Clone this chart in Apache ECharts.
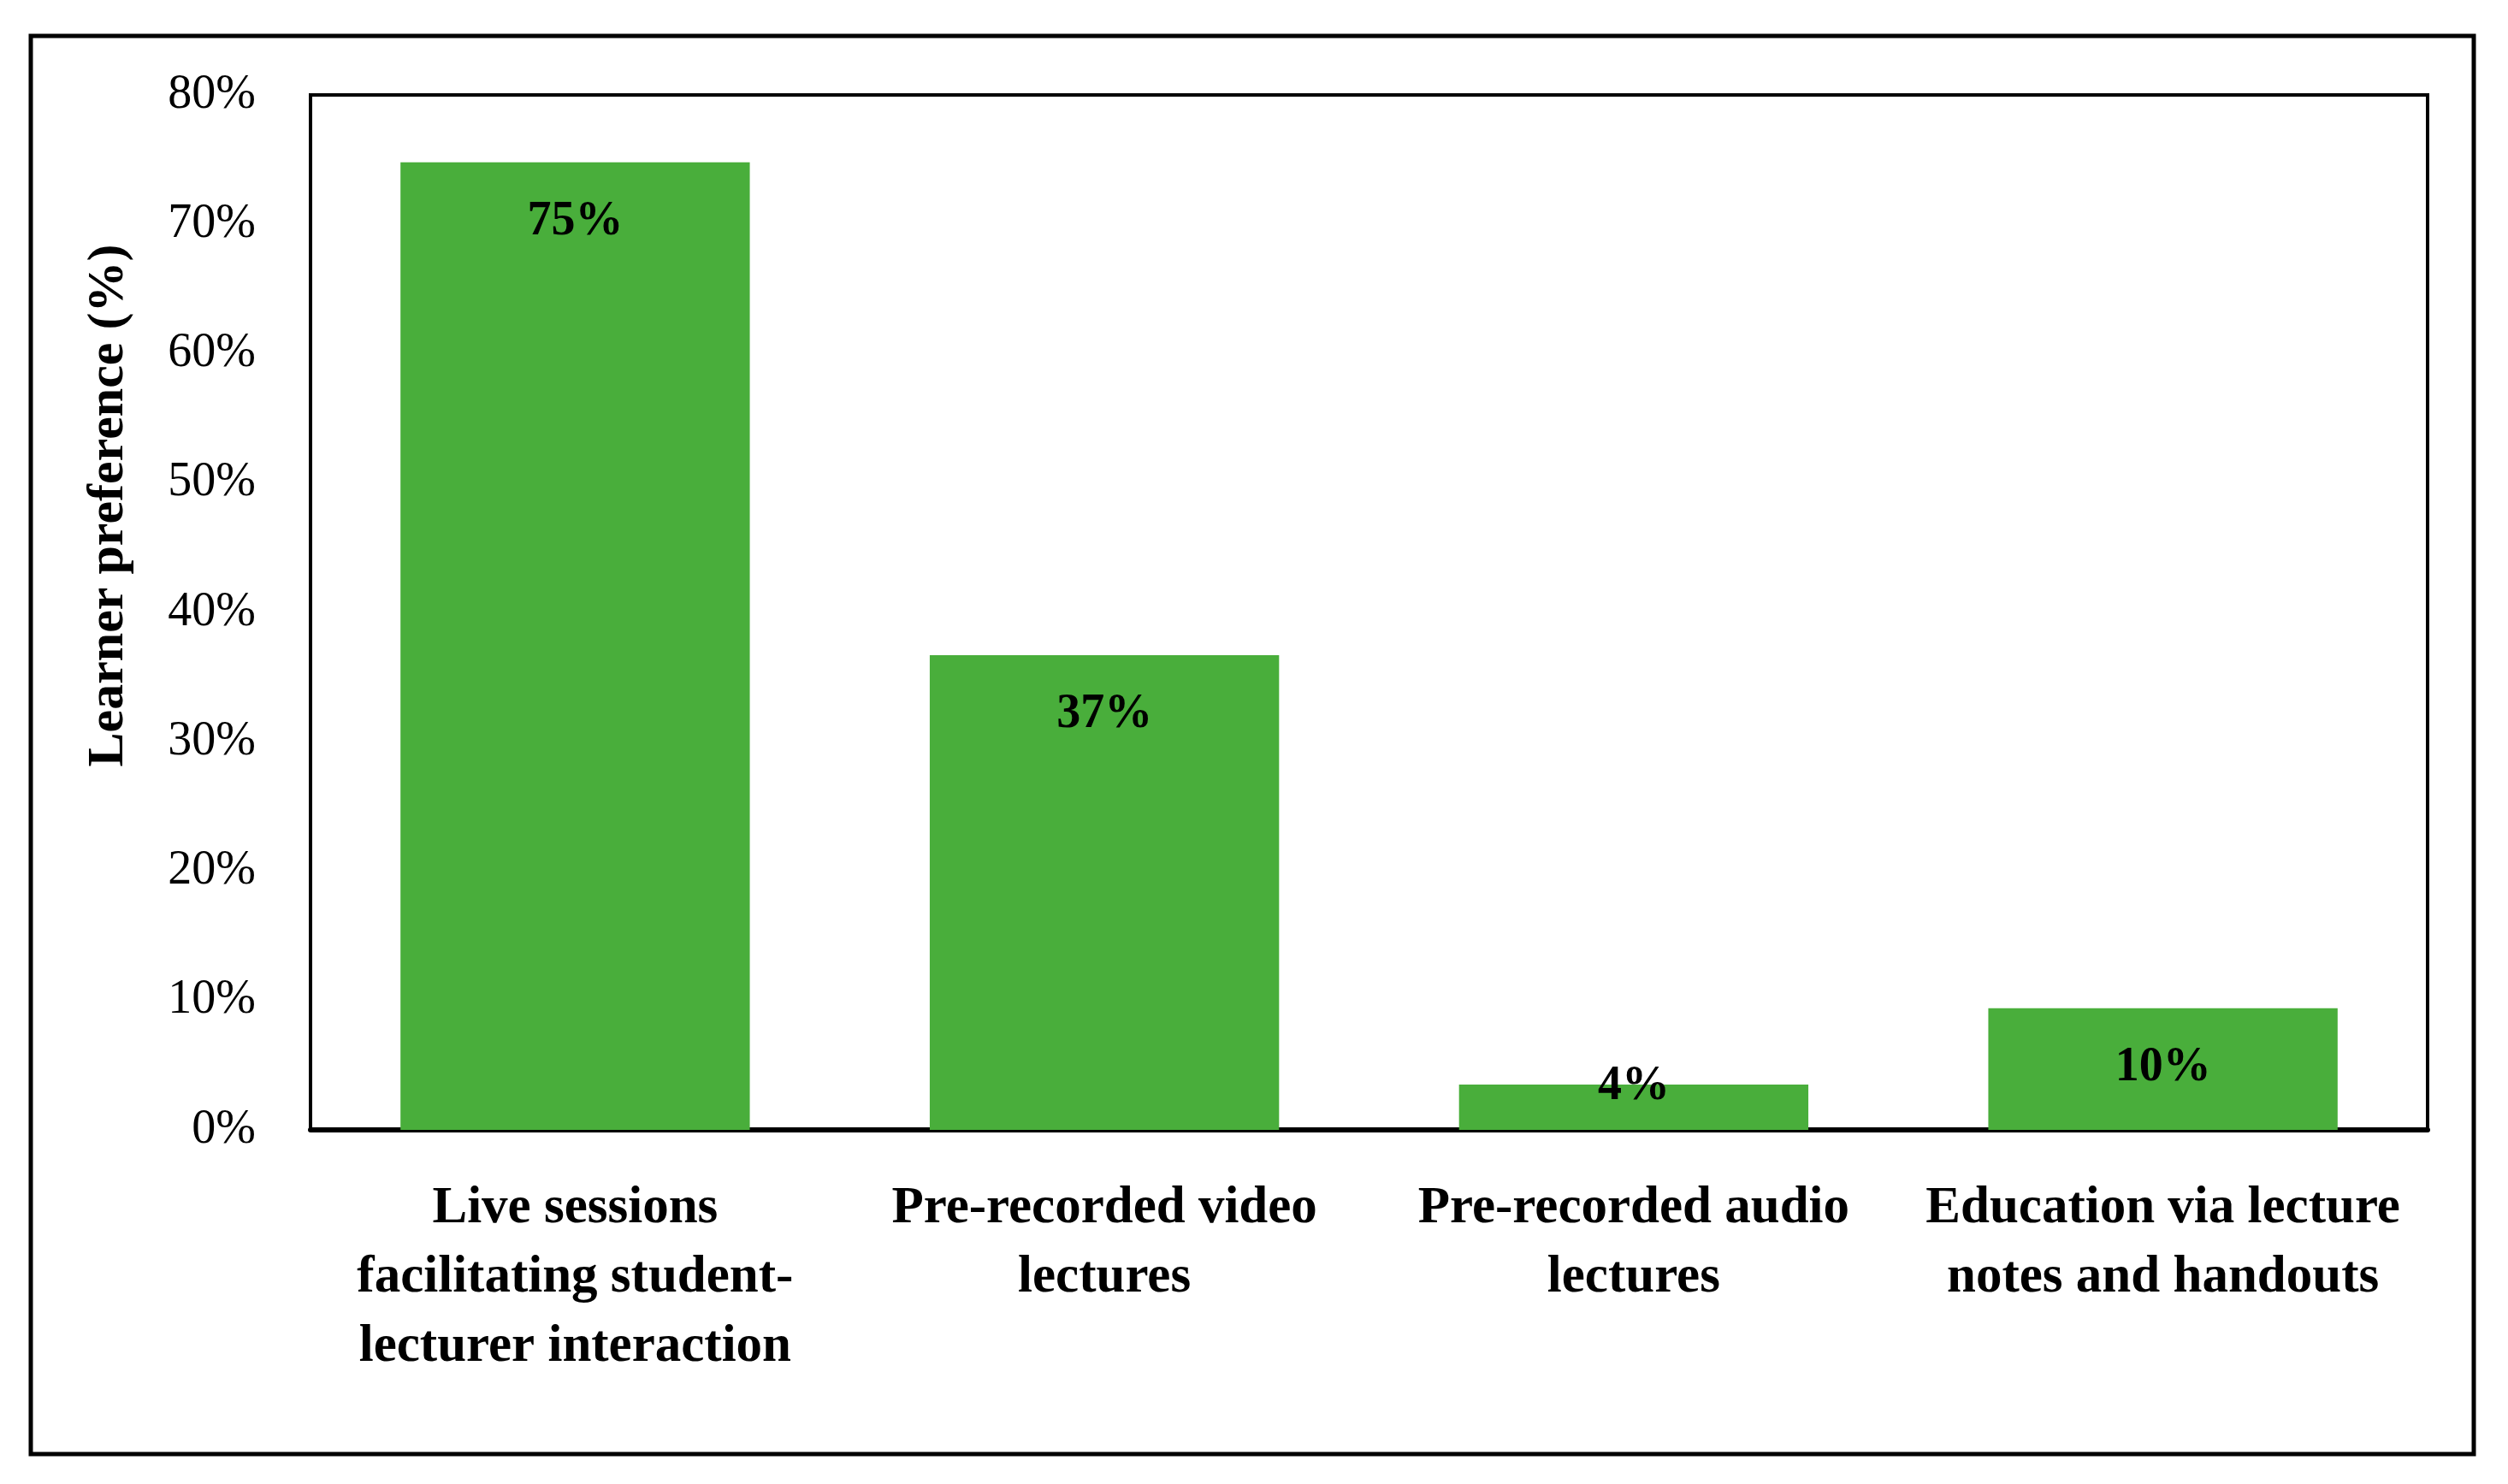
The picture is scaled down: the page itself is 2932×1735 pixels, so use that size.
<!DOCTYPE html>
<html>
<head>
<meta charset="utf-8">
<script src="https://cdn.jsdelivr.net/npm/echarts@6/dist/echarts.min.js"></script>
<style>
html,body{margin:0;padding:0;background:#fff;}
#chart{width:2932px;height:1735px;}
</style>
</head>
<body>
<div id="chart"></div>
<script>
var categories = [
  "Live sessions\nfacilitating student-\nlecturer interaction",
  "Pre-recorded video\nlectures",
  "Pre-recorded audio\nlectures",
  "Education via lecture\nnotes and handouts"
];
var values = [74.8, 36.7, 3.5, 9.4];
var valueLabels = ["75%", "37%", "4%", "10%"];
var yTicks = { min: 0, max: 80, interval: 10 };

var chart = echarts.init(document.getElementById('chart'), null, {renderer: 'canvas'});

var barData = values.map(function (v, i) {
  var item = { value: v };
  if (v < 5) {
    item.label = { position: 'top', distance: -30 };
  }
  return item;
});

var option = {
  backgroundColor: '#ffffff',
  animation: false,
  grid: {
    left: 363, right: 94, top: 111, bottom: 414,
    show: true, borderColor: '#000', borderWidth: 4, backgroundColor: 'transparent'
  },
  graphic: [{
    type: 'rect',
    shape: { x: 36, y: 42, width: 2856, height: 1658 },
    style: { fill: 'none', stroke: '#000', lineWidth: 5 },
    silent: true
  }],
  xAxis: {
    type: 'category',
    data: categories,
    axisLine: { show: true, lineStyle: { color: '#000', width: 6 } },
    axisTick: { show: false },
    axisLabel: {
      interval: 0,
      margin: 52,
      fontFamily: 'Liberation Serif',
      fontWeight: 'bold',
      fontSize: 61,
      lineHeight: 81,
      color: '#000'
    }
  },
  yAxis: {
    type: 'value',
    min: yTicks.min, max: yTicks.max, interval: yTicks.interval,
    name: 'Learner preference (%)',
    nameLocation: 'middle',
    nameGap: 206,
    nameTextStyle: {
      fontFamily: 'Liberation Serif',
      fontWeight: 'bold',
      fontSize: 60,
      color: '#000',
      padding: [0, 0, 0, 250]
    },
    axisLine: { show: true, lineStyle: { color: '#000', width: 3 } },
    axisTick: { show: false },
    splitLine: { show: false },
    axisLabel: {
      formatter: '{value}%',
      margin: 64,
      fontFamily: 'Liberation Serif',
      fontSize: 56,
      color: '#000'
    }
  },
  series: [{
    type: 'bar',
    data: barData,
    barCategoryGap: '34%',
    itemStyle: { color: '#49AE3B' },
    label: {
      show: true,
      position: 'insideTop',
      distance: 42,
      formatter: function (p) { return valueLabels[p.dataIndex]; },
      fontFamily: 'Liberation Serif',
      fontWeight: 'bold',
      fontSize: 56,
      color: '#000'
    }
  }]
};
chart.setOption(option);
</script>
</body>
</html>
